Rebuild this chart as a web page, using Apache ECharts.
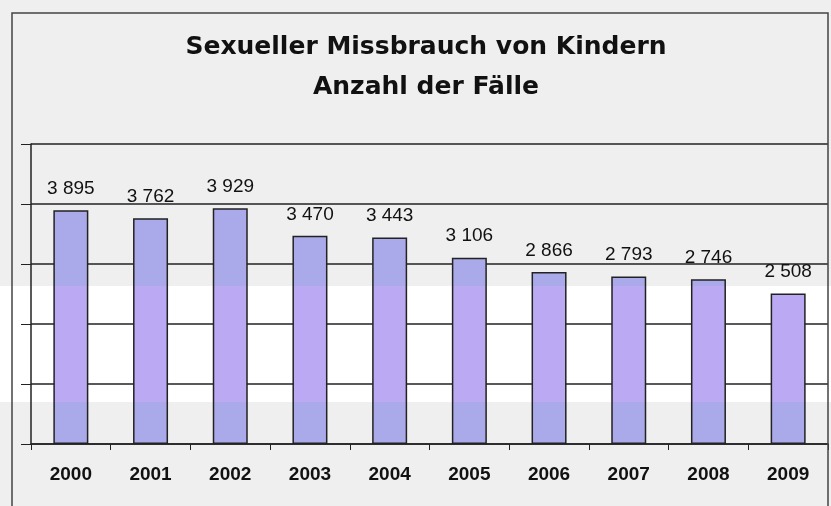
<!DOCTYPE html>
<html>
<head>
<meta charset="utf-8">
<script src="https://cdn.jsdelivr.net/npm/echarts@6/dist/echarts.min.js"></script>
<style>
    html, body { margin: 0; padding: 0; background: #efefef; }
    #chart { width: 831px; height: 506px; }
</style>
</head>
<body>
<div id="chart"></div>
<script>
const years = ['2000', '2001', '2002', '2003', '2004', '2005', '2006', '2007', '2008', '2009'];
const cases = [3895, 3762, 3929, 3470, 3443, 3106, 2866, 2793, 2746, 2508];
const yTicks = [0, 1000, 2000, 3000, 4000, 5000];

const chart = echarts.init(document.getElementById('chart'));

// bar fill is lighter inside the white band of the scan
const barFill = {
    type: 'linear', x: 0, y: 0, x2: 0, y2: 506, global: true,
    colorStops: [
        {offset: 0, color: '#aaaaea'},
        {offset: 286 / 506, color: '#aaaaea'},
        {offset: 286 / 506, color: '#bba9f3'},
        {offset: 402 / 506, color: '#bba9f3'},
        {offset: 402 / 506, color: '#aaaaea'},
        {offset: 1, color: '#aaaaea'}
    ]
};

chart.setOption({
    backgroundColor: '#efefef',
    animation: false,
    title: {
        text: 'Sexueller Missbrauch von Kindern\nAnzahl der Fälle',
        left: 421,
        top: 22,
        textAlign: 'center',
        textStyle: {
            fontFamily: 'DejaVu Sans',
            fontSize: 25,
            fontWeight: 'bold',
            lineHeight: 40,
            color: '#111'
        }
    },
    graphic: [
        {
            type: 'rect', z: -10, silent: true,
            shape: {x: 0, y: 286, width: 831, height: 116},
            style: {fill: '#ffffff'}
        },
        {
            type: 'rect', z: 100, silent: true,
            shape: {x: 12, y: 13, width: 816, height: 600},
            style: {fill: 'none', stroke: '#444', lineWidth: 1.5}
        }
    ],
    grid: {left: 31, right: 3, top: 144, bottom: 62},
    xAxis: {
        type: 'category',
        data: years,
        axisLine: {lineStyle: {color: '#222', width: 1.5}},
        axisTick: {show: true, length: 6, lineStyle: {color: '#222'}},
        axisLabel: {
            margin: 21,
            fontFamily: 'Liberation Sans',
            fontSize: 19,
            fontWeight: 'bold',
            color: '#111'
        }
    },
    yAxis: {
        type: 'value',
        min: yTicks[0],
        max: yTicks[yTicks.length - 1],
        interval: 1000,
        axisLine: {show: true, lineStyle: {color: '#222', width: 1.5}},
        axisTick: {show: true, length: 10, lineStyle: {color: '#222'}},
        axisLabel: {show: false},
        splitLine: {lineStyle: {color: '#222', width: 1.5}}
    },
    series: [{
        type: 'bar',
        data: cases,
        barWidth: 35,
        itemStyle: {color: barFill, borderColor: '#222', borderWidth: 1.5},
        label: {
            show: true,
            position: 'top',
            distance: 12,
            fontFamily: 'Liberation Sans',
            fontSize: 19,
            color: '#111',
            formatter: (p) => String(p.value).replace(/\B(?=(\d{3})+$)/g, ' ')
        }
    }]
});
</script>
</body>
</html>
